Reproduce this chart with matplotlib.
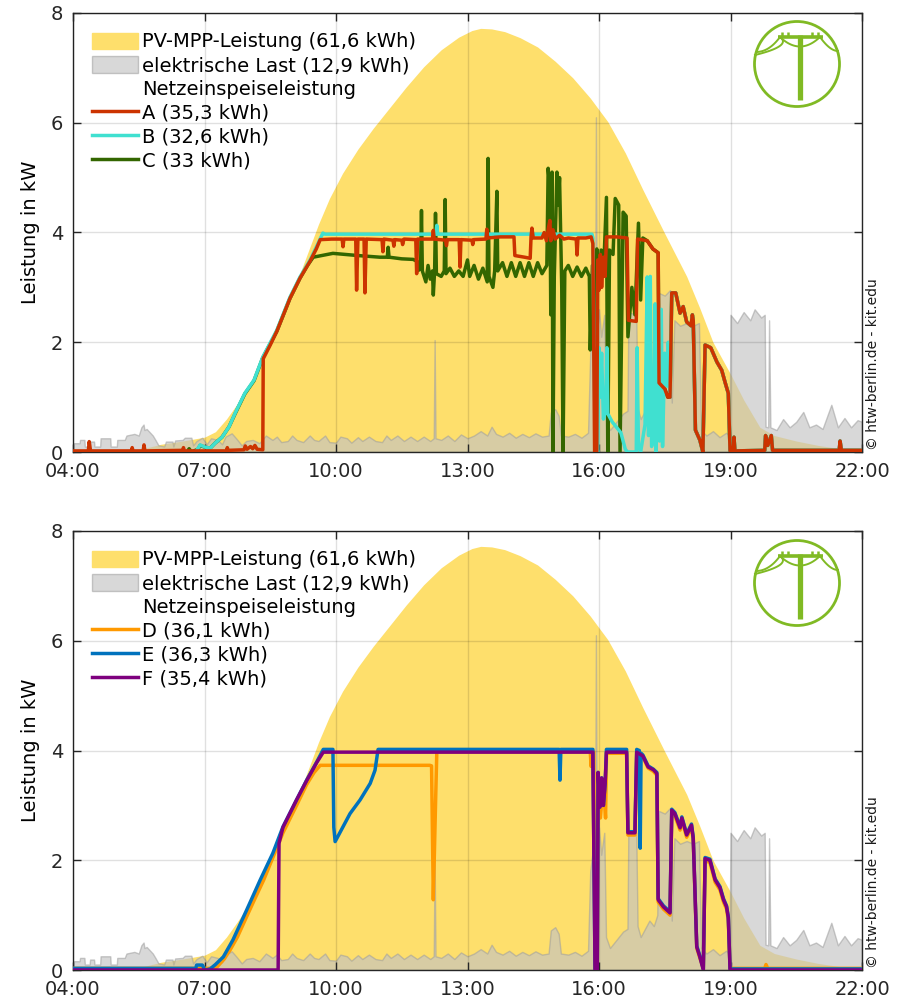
import numpy as np
import matplotlib
matplotlib.use("Agg")
import matplotlib.pyplot as plt
from matplotlib.patches import Patch, Circle
from matplotlib.lines import Line2D

# --- data (time in hours, power in kW) ---------------------------------
pv_t = [4.00, 5.20, 5.60, 6.00, 6.50, 7.00, 7.25, 7.50, 7.75, 8.00,
        8.33, 8.65, 8.95, 9.20, 9.60, 9.85, 10.15, 10.50, 10.85, 11.20,
        11.60, 12.00, 12.40, 12.80, 13.10, 13.30, 13.55, 13.85, 14.20, 14.60,
        15.00, 15.40, 15.80, 16.20, 16.60, 17.00, 17.50, 18.00, 18.30, 18.60,
        19.00, 19.30, 19.67, 20.00, 20.50, 21.00, 21.50, 22.00]
pv_p = [0.00, 0.00, 0.06, 0.14, 0.20, 0.27, 0.37, 0.60, 0.88, 1.18,
        1.73, 2.25, 2.82, 3.30, 4.15, 4.62, 5.08, 5.52, 5.90, 6.25,
        6.65, 7.02, 7.33, 7.56, 7.68, 7.72, 7.71, 7.66, 7.55, 7.38,
        7.12, 6.82, 6.45, 6.02, 5.45, 4.78, 3.98, 3.20, 2.62, 2.00,
        1.42, 0.95, 0.45, 0.30, 0.20, 0.12, 0.06, 0.02]

load_t = [4.00, 4.15, 4.16, 4.26, 4.27, 4.38, 4.39, 4.48, 4.49, 4.62,
          4.63, 4.85, 4.86, 5.00, 5.01, 5.18, 5.22, 5.40, 5.50, 5.56,
          5.61, 5.63, 5.68, 5.75, 5.82, 5.88, 5.95, 6.08, 6.12, 6.27,
          6.29, 6.33, 6.50, 6.55, 6.70, 6.74, 6.82, 6.95, 7.05, 7.15,
          7.30, 7.40, 7.48, 7.62, 7.72, 7.85, 7.95, 8.10, 8.25, 8.40,
          8.55, 8.65, 8.75, 8.90, 9.00, 9.10, 9.25, 9.40, 9.50, 9.60,
          9.75, 9.85, 10.00, 10.10, 10.25, 10.35, 10.50, 10.60, 10.75, 10.90,
          11.05, 11.15, 11.25, 11.40, 11.55, 11.70, 11.85, 12.00, 12.15, 12.23,
          12.25, 12.27, 12.40, 12.55, 12.70, 12.85, 13.00, 13.15, 13.30, 13.45,
          13.55, 13.65, 13.80, 13.95, 14.10, 14.25, 14.40, 14.55, 14.70, 14.85,
          14.90, 15.00, 15.08, 15.13, 15.30, 15.45, 15.60, 15.75, 15.80, 15.86,
          15.91, 15.93, 15.95, 16.00, 16.05, 16.12, 16.16, 16.25, 16.40, 16.55,
          16.65, 16.67, 16.85, 16.88, 16.95, 17.05, 17.15, 17.25, 17.33, 17.36,
          17.50, 17.62, 17.66, 17.72, 17.85, 18.00, 18.15, 18.28, 18.33, 18.45,
          18.60, 18.75, 18.90, 18.98, 19.00, 19.15, 19.30, 19.45, 19.55, 19.70,
          19.78, 19.80, 19.86, 19.88, 19.91, 20.05, 20.20, 20.35, 20.50, 20.66,
          20.80, 20.95, 21.10, 21.30, 21.45, 21.60, 21.75, 21.90, 22.00]
load_p = [0.16, 0.16, 0.22, 0.22, 0.10, 0.10, 0.19, 0.19, 0.10, 0.10,
          0.25, 0.25, 0.10, 0.10, 0.22, 0.22, 0.30, 0.33, 0.30, 0.45,
          0.50, 0.40, 0.42, 0.36, 0.30, 0.22, 0.12, 0.10, 0.19, 0.19,
          0.10, 0.21, 0.22, 0.26, 0.26, 0.12, 0.20, 0.26, 0.14, 0.25,
          0.22, 0.14, 0.28, 0.34, 0.25, 0.12, 0.20, 0.22, 0.16, 0.30,
          0.22, 0.28, 0.18, 0.20, 0.30, 0.22, 0.18, 0.30, 0.22, 0.20,
          0.30, 0.18, 0.17, 0.28, 0.25, 0.17, 0.27, 0.20, 0.28, 0.20,
          0.18, 0.30, 0.22, 0.30, 0.20, 0.28, 0.20, 0.28, 0.20, 0.25,
          2.04, 0.25, 0.22, 0.30, 0.20, 0.32, 0.25, 0.30, 0.38, 0.30,
          0.46, 0.33, 0.28, 0.35, 0.26, 0.33, 0.27, 0.34, 0.28, 0.30,
          0.72, 0.78, 0.66, 0.30, 0.28, 0.33, 0.26, 0.35, 1.80, 2.20,
          2.00, 6.10, 2.10, 2.60, 2.10, 2.50, 0.60, 0.40, 0.55, 0.70,
          0.75, 2.55, 2.50, 0.80, 0.60, 0.75, 0.90, 0.80, 1.00, 2.90,
          2.85, 2.95, 0.90, 2.40, 2.30, 2.35, 2.30, 2.35, 0.40, 0.30,
          0.38, 0.27, 0.35, 0.30, 2.50, 2.35, 2.55, 2.40, 2.60, 2.45,
          2.50, 0.46, 0.45, 2.40, 0.45, 0.40, 0.60, 0.45, 0.55, 0.73,
          0.45, 0.50, 0.42, 0.86, 0.45, 0.62, 0.45, 0.58, 0.55]

# evening part shared by A, B and C (they coincide after 17:40)
abc_tail_t = [17.66, 17.75, 17.85, 17.92, 18.00, 18.10, 18.13, 18.15, 18.20, 18.30,
              18.37, 18.42, 18.55, 18.69, 18.80, 18.88, 18.95, 18.99, 19.06, 19.08,
              19.10, 19.78, 19.80, 19.85, 19.93, 19.96, 21.48, 21.50, 21.53, 22.00]
abc_tail_p = [2.90, 2.90, 2.53, 2.65, 2.37, 2.30, 2.50, 2.40, 0.40, 0.22,
              0.00, 1.95, 1.90, 1.64, 1.49, 1.26, 1.07, 0.02, 0.02, 0.27,
              0.02, 0.03, 0.30, 0.12, 0.30, 0.03, 0.03, 0.20, 0.03, 0.03]

a_t = [4.00, 4.35, 4.37, 4.40, 5.33, 5.35, 5.37, 5.60, 5.62, 5.64,
       6.50, 6.52, 6.54, 7.50, 7.52, 7.54, 7.90, 7.93, 7.97, 8.05,
       8.10, 8.15, 8.20, 8.33, 8.34, 8.50, 8.65, 8.80, 8.95, 9.18,
       9.41, 9.55, 9.64, 9.90, 10.14, 10.16, 10.18, 10.45, 10.47, 10.50,
       10.64, 10.66, 10.69, 11.05, 11.07, 11.09, 11.30, 11.32, 11.34, 11.50,
       11.52, 11.55, 11.82, 11.84, 11.86, 12.20, 12.22, 12.24, 12.50, 12.52,
       12.54, 12.81, 12.83, 12.85, 13.10, 13.12, 13.14, 13.42, 13.44, 13.46,
       13.75, 14.06, 14.08, 14.30, 14.43, 14.45, 14.47, 14.50, 14.70, 14.75,
       14.80, 14.85, 14.88, 14.90, 14.95, 15.00, 15.10, 15.20, 15.30, 15.48,
       15.50, 15.52, 15.70, 15.82, 15.86, 15.90, 15.95, 15.97, 16.00, 16.03,
       16.06, 16.10, 16.14, 16.17, 16.40, 16.64, 16.67, 16.85, 16.88, 17.10,
       17.23, 17.35, 17.37, 17.50, 17.57, 17.62]
a_p = [0.02, 0.02, 0.19, 0.02, 0.02, 0.08, 0.02, 0.02, 0.13, 0.02,
       0.03, 0.08, 0.02, 0.02, 0.08, 0.03, 0.04, 0.11, 0.05, 0.10,
       0.06, 0.12, 0.05, 0.04, 1.70, 1.95, 2.20, 2.50, 2.80, 3.17,
       3.48, 3.70, 3.87, 3.88, 3.88, 3.74, 3.88, 3.88, 2.95, 3.88,
       3.88, 2.90, 3.88, 3.87, 3.65, 3.88, 3.86, 3.75, 3.87, 3.86,
       3.78, 3.88, 3.87, 3.25, 3.88, 3.88, 4.04, 3.88, 3.86, 3.76,
       3.87, 3.87, 3.37, 3.87, 3.86, 3.78, 3.87, 3.88, 4.06, 3.90,
       3.92, 3.92, 3.58, 3.55, 3.53, 3.92, 4.08, 3.90, 3.90, 4.00,
       3.85, 4.10, 4.22, 3.85, 4.05, 3.88, 3.95, 3.88, 3.90, 3.88,
       3.59, 3.90, 3.90, 3.92, 3.80, 0.00, 0.00, 3.50, 2.95, 3.60,
       3.00, 3.55, 3.20, 3.92, 3.92, 3.90, 2.40, 2.38, 3.88, 3.85,
       3.70, 3.63, 1.26, 1.15, 1.00, 1.00]

b_t = [4.00, 6.80, 6.83, 6.90, 7.01, 7.13, 7.24, 7.40, 7.56, 7.70,
       7.81, 7.92, 8.13, 8.33, 8.65, 8.95, 9.18, 9.41, 9.59, 9.70,
       9.75, 12.28, 12.30, 12.32, 15.84, 15.86, 15.90, 15.93, 15.97, 16.00,
       16.03, 16.06, 16.10, 16.15, 16.18, 16.20, 16.30, 16.40, 16.50, 16.60,
       16.65, 16.85, 16.87, 16.90, 16.95, 17.05, 17.10, 17.13, 17.17, 17.20,
       17.25, 17.28, 17.30, 17.35, 17.38, 17.42, 17.45, 17.50, 17.55, 17.58,
       17.62]
b_p = [0.00, 0.00, 0.04, 0.13, 0.09, 0.07, 0.16, 0.27, 0.46, 0.71,
       0.89, 1.07, 1.31, 1.73, 2.22, 2.82, 3.19, 3.50, 3.80, 3.99,
       3.97, 3.97, 4.13, 3.97, 3.97, 3.90, 1.00, 0.20, 0.00, 1.90,
       1.00, 1.80, 0.60, 0.75, 1.90, 0.70, 0.55, 0.45, 0.35, 0.05,
       0.00, 0.00, 1.90, 0.10, 0.00, 0.50, 3.19, 0.30, 3.20, 0.10,
       0.30, 2.70, 0.00, 2.50, 0.20, 2.60, 0.10, 1.80, 1.20, 2.00,
       1.00]

c_t = [4.00, 6.60, 6.65, 6.70, 6.85, 6.90, 7.00, 7.13, 7.24, 7.40,
       7.56, 7.70, 7.81, 7.92, 8.13, 8.33, 8.65, 8.95, 9.18, 9.35,
       9.48, 9.93, 10.50, 11.00, 11.17, 11.19, 11.21, 11.50, 11.76, 11.86,
       11.88, 11.93, 11.95, 11.97, 12.05, 12.10, 12.15, 12.20, 12.22, 12.25,
       12.27, 12.29, 12.40, 12.47, 12.49, 12.51, 12.60, 12.70, 12.80, 12.90,
       13.00, 13.05, 13.15, 13.25, 13.35, 13.45, 13.47, 13.49, 13.58, 13.62,
       13.67, 13.69, 13.80, 13.90, 14.00, 14.10, 14.20, 14.30, 14.40, 14.50,
       14.60, 14.70, 14.81, 14.84, 14.88, 14.90, 14.93, 14.95, 14.98, 15.04,
       15.07, 15.10, 15.15, 15.18, 15.22, 15.30, 15.40, 15.50, 15.60, 15.70,
       15.78, 15.80, 15.85, 15.90, 15.95, 16.00, 16.05, 16.10, 16.17, 16.20,
       16.24, 16.32, 16.37, 16.45, 16.48, 16.55, 16.62, 16.66, 16.75, 16.82,
       16.90, 16.95, 17.00, 17.10, 17.23, 17.35, 17.37, 17.50, 17.57, 17.62]
c_p = [0.00, 0.00, 0.06, 0.00, 0.05, 0.12, 0.09, 0.07, 0.16, 0.27,
       0.46, 0.70, 0.88, 1.06, 1.30, 1.72, 2.20, 2.80, 3.17, 3.40,
       3.55, 3.62, 3.58, 3.55, 3.55, 3.73, 3.55, 3.52, 3.51, 3.47,
       3.31, 3.35, 4.40, 3.30, 3.10, 3.40, 3.15, 3.30, 2.86, 3.30,
       4.35, 3.25, 3.20, 3.30, 4.60, 3.25, 3.35, 3.20, 3.30, 3.20,
       3.50, 3.20, 3.40, 3.15, 3.35, 3.10, 5.35, 3.20, 3.00, 3.30,
       4.75, 3.30, 3.45, 3.20, 3.45, 3.20, 3.45, 3.20, 3.45, 3.20,
       3.45, 3.25, 3.40, 5.17, 4.80, 2.50, 5.10, 0.00, 3.20, 5.10,
       4.50, 5.00, 3.00, 0.00, 3.30, 3.40, 3.20, 3.37, 3.20, 3.35,
       3.20, 1.86, 3.40, 2.00, 3.70, 3.10, 3.68, 3.20, 4.64, 0.00,
       3.68, 3.60, 4.62, 4.50, 0.00, 4.37, 4.30, 2.10, 3.00, 2.50,
       4.17, 2.77, 3.90, 3.85, 3.70, 3.63, 1.26, 1.15, 1.00, 1.00]

d_t = [4.00, 7.10, 7.28, 7.45, 7.58, 7.75, 7.96, 8.15, 8.35, 8.56,
       8.79, 9.10, 9.33, 9.50, 9.64, 12.14, 12.18, 12.22, 12.27, 12.30,
       15.80, 15.82, 15.85, 15.88, 15.91, 15.96, 15.98, 16.03, 16.10, 16.15,
       16.17, 16.63, 16.66, 16.82, 16.86, 17.00, 17.12, 17.24, 17.32, 17.35,
       17.47, 17.62, 17.66, 17.73, 17.85, 17.89, 18.00, 18.11, 18.15, 18.23,
       18.30, 18.38, 18.42, 18.53, 18.65, 18.76, 18.84, 18.91, 18.95, 18.99,
       19.78, 19.81, 19.85, 22.00]
d_p = [0.03, 0.03, 0.05, 0.20, 0.36, 0.60, 0.97, 1.30, 1.64, 2.05,
       2.50, 3.00, 3.38, 3.60, 3.73, 3.73, 3.72, 1.28, 3.00, 3.98,
       3.98, 3.71, 3.98, 3.98, 0.00, 0.00, 3.50, 2.77, 3.40, 2.77,
       3.95, 3.95, 2.46, 2.46, 3.95, 3.88, 3.68, 3.62, 3.55, 1.24,
       1.11, 1.00, 2.87, 2.81, 2.55, 2.73, 2.42, 2.60, 2.36, 0.40,
       0.22, 0.03, 1.99, 1.96, 1.60, 1.46, 1.24, 1.11, 0.91, 0.03,
       0.03, 0.10, 0.03, 0.03]

e_t = [4.00, 6.80, 6.82, 6.95, 7.01, 7.13, 7.25, 7.43, 7.65, 7.96,
       8.27, 8.56, 8.79, 9.10, 9.33, 9.56, 9.71, 9.93, 9.95, 9.98,
       10.16, 10.32, 10.55, 10.78, 10.89, 10.96, 15.09, 15.11, 15.13, 15.86,
       15.91, 15.96, 15.98, 16.02, 16.06, 16.10, 16.14, 16.17, 16.63, 16.66,
       16.82, 16.86, 16.92, 16.94, 16.96, 17.00, 17.12, 17.24, 17.32, 17.35,
       17.47, 17.62, 17.66, 17.73, 17.85, 17.89, 18.00, 18.11, 18.15, 18.23,
       18.30, 18.38, 18.42, 18.53, 18.65, 18.76, 18.84, 18.91, 18.95, 18.99,
       22.00]
e_p = [0.03, 0.03, 0.09, 0.09, 0.00, 0.02, 0.10, 0.24, 0.55, 1.09,
       1.64, 2.13, 2.61, 3.10, 3.46, 3.79, 4.02, 4.02, 2.60, 2.34,
       2.61, 2.85, 3.10, 3.40, 3.64, 4.02, 4.02, 3.46, 4.02, 4.02,
       0.00, 0.00, 3.60, 2.97, 3.50, 3.00, 3.40, 4.02, 4.02, 2.52,
       2.52, 4.02, 4.00, 2.22, 3.95, 3.92, 3.72, 3.66, 3.60, 1.30,
       1.17, 1.06, 2.93, 2.87, 2.61, 2.79, 2.48, 2.66, 2.42, 0.44,
       0.26, 0.02, 2.05, 2.02, 1.66, 1.52, 1.30, 1.17, 0.97, 0.02,
       0.02]

f_t = [4.00, 8.68, 8.70, 8.79, 9.10, 9.33, 9.56, 9.71, 15.86, 15.91,
       15.96, 15.98, 16.02, 16.06, 16.10, 16.14, 16.17, 16.63, 16.66, 16.82,
       16.86, 17.00, 17.12, 17.24, 17.32, 17.35, 17.47, 17.62, 17.66, 17.73,
       17.85, 17.89, 18.00, 18.11, 18.15, 18.23, 18.30, 18.38, 18.42, 18.53,
       18.65, 18.76, 18.84, 18.91, 18.95, 18.99, 22.00]
f_p = [0.00, 0.00, 2.31, 2.60, 3.10, 3.45, 3.78, 3.97, 3.97, 0.00,
       0.00, 3.60, 2.97, 3.50, 3.00, 3.40, 3.97, 3.97, 2.50, 2.50,
       3.97, 3.90, 3.70, 3.65, 3.58, 1.28, 1.15, 1.04, 2.91, 2.85,
       2.59, 2.77, 2.46, 2.64, 2.40, 0.42, 0.24, 0.00, 2.03, 2.00,
       1.64, 1.50, 1.28, 1.15, 0.95, 0.00, 0.00]

x_ticks = [4, 7, 10, 13, 16, 19, 22]
x_labels = ["04:00", "07:00", "10:00", "13:00", "16:00", "19:00", "22:00"]
y_ticks = [0, 2, 4, 6, 8]
pv_label = "PV-MPP-Leistung (61,6 kWh)"
load_label = "elektrische Last (12,9 kWh)"
feed_label = "Netzeinspeiseleistung"
top_labels = ["A (35,3 kWh)", "B (32,6 kWh)", "C (33 kWh)"]
bottom_labels = ["D (36,1 kWh)", "E (36,3 kWh)", "F (35,4 kWh)"]

# --- style ---------------------------------------------------------------
PV_COLOR = "#FEDF6C"
LOAD_FACE = (0.765, 0.765, 0.765, 0.65)
LOAD_EDGE = (0.62, 0.62, 0.62, 0.55)
LOGO_GREEN = "#80BA24"
FS = 14
LW = 2.5

W, H = 905, 1000
fig = plt.figure(figsize=(W / 100, H / 100), dpi=100)


def panel(ax, lines, labels):
    # lines are given in legend order with their drawing z-order
    ax.fill_between(pv_t, pv_p, color=PV_COLOR, lw=0, zorder=1)
    ax.fill_between(load_t, load_p, facecolor=LOAD_FACE, edgecolor=LOAD_EDGE,
                    lw=1.0, zorder=1.5)
    for t, p, c, z in lines:
        ax.plot(t, p, color=c, lw=LW, zorder=z)
    ax.set_xlim(4, 22)
    ax.set_ylim(0, 8)
    ax.set_xticks(x_ticks)
    ax.set_xticklabels(x_labels)
    ax.set_yticks(y_ticks)
    ax.set_axisbelow(False)
    ax.grid(True, color="k", alpha=0.12, lw=1.0)
    ax.tick_params(direction="in", length=6, width=1, top=True, right=True,
                   labelsize=FS, pad=7, colors="#262626")
    for s in ax.spines.values():
        s.set_color("#262626")
        s.set_linewidth(1.0)
    ax.set_ylabel("Leistung in kW", fontsize=FS, labelpad=8)

    handles = [Patch(facecolor=PV_COLOR, edgecolor=PV_COLOR),
               Patch(facecolor=LOAD_FACE, edgecolor=LOAD_EDGE),
               Patch(facecolor="none", edgecolor="none")]
    handles += [Line2D([], [], color=c, lw=LW) for _, _, c, _ in lines]
    ax.legend(handles, [pv_label, load_label, feed_label] + labels,
              loc="upper left", frameon=False, fontsize=FS,
              handlelength=2.35, handleheight=0.9, handletextpad=0.2,
              labelspacing=0.245, borderaxespad=0.6, borderpad=0.4)


def draw_logo(cx, cy):
    lax = fig.add_axes([(cx - 50) / W, 1 - (cy + 50) / H, 100 / W, 100 / H])
    lax.set_xlim(-50, 50)
    lax.set_ylim(50, -50)
    lax.axis("off")
    g = LOGO_GREEN
    lax.add_patch(Circle((0, 0), 42.5, fill=False, ec=g, lw=2.0))
    lax.plot([3, 3], [-29, 35.5], color=g, lw=3.8, solid_capstyle="butt")
    lax.plot([-19, 26], [-27.5, -27.5], color=g, lw=2.6, solid_capstyle="butt")
    for x in (-15, -9, 15, 21):
        lax.plot([x, x], [-27.5, -32.5], color=g, lw=1.8, solid_capstyle="butt")
    s = np.linspace(0, 1, 30)
    for p0, p1, p2 in [((-41, -12), (-28, -12), (-17, -27)),
                       ((-17, -27), (3, -8), (23, -27)),
                       ((23, -27), (33, -13), (41, -13)),
                       ((-42, -9), (-5, -18), (-17, -27))]:
        x = (1 - s) ** 2 * p0[0] + 2 * (1 - s) * s * p1[0] + s ** 2 * p2[0]
        y = (1 - s) ** 2 * p0[1] + 2 * (1 - s) * s * p1[1] + s ** 2 * p2[1]
        lax.plot(x, y, color=g, lw=1.4)


ax1 = fig.add_axes([73 / W, 1 - 452 / H, 789 / W, 439 / H])
ax2 = fig.add_axes([73 / W, 1 - 970 / H, 789 / W, 439 / H])

panel(ax1, [(a_t + abc_tail_t, a_p + abc_tail_p, "#CC3300", 3.3),
            (b_t + abc_tail_t, b_p + abc_tail_p, "#40E0D0", 3.2),
            (c_t + abc_tail_t, c_p + abc_tail_p, "#336600", 3.1)],
      top_labels)

panel(ax2, [(d_t, d_p, "#FF9900", 3.1),
            (e_t, e_p, "#0072BD", 3.2),
            (f_t, f_p, "#7E007E", 3.3)],
      bottom_labels)

draw_logo(797, 64)
draw_logo(797, 583)

for yc in (364, 882):
    fig.text(873 / W, 1 - yc / H, "\u00a9 htw-berlin.de - kit.edu", rotation=90,
             ha="center", va="center", fontsize=10, color="#1a1a1a")

fig.savefig("out.png", dpi=100)
